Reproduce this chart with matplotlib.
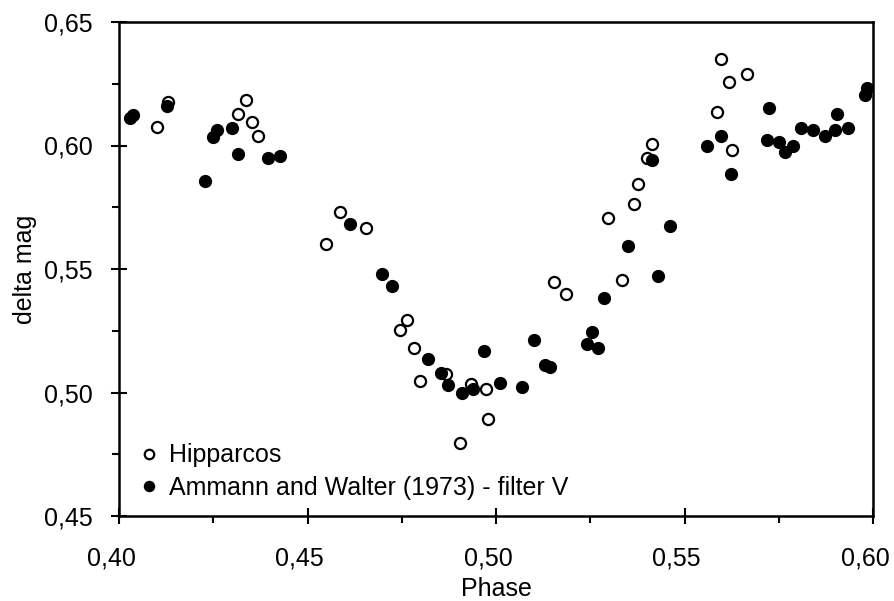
import matplotlib
matplotlib.use('Agg')
import matplotlib.pyplot as plt
import matplotlib.transforms as mtransforms
from matplotlib.ticker import MultipleLocator

plt.rcParams['font.family'] = ['Liberation Sans Narrow', 'Liberation Sans', 'DejaVu Sans']

# Hipparcos (open circles)
hip_phase = [0.4101, 0.4131, 0.4316, 0.4336, 0.4353, 0.4368, 0.4549, 0.4586, 0.4655,
             0.4745, 0.4765, 0.4782, 0.4798, 0.4867, 0.4905, 0.4935, 0.4974, 0.4978,
             0.5154, 0.5185, 0.5296, 0.5334, 0.5365, 0.5376, 0.5400, 0.5413,
             0.5585, 0.5596, 0.5617, 0.5627, 0.5665]
hip_mag = [0.6076, 0.6177, 0.6128, 0.6184, 0.6094, 0.6038, 0.5601, 0.5731, 0.5666,
           0.5253, 0.5294, 0.5180, 0.5047, 0.5075, 0.4797, 0.5034, 0.5014, 0.4894,
           0.5447, 0.5399, 0.5705, 0.5455, 0.5763, 0.5843, 0.5948, 0.6005,
           0.6136, 0.6349, 0.6256, 0.5982, 0.6291]

# Ammann and Walter (1973) - filter V (filled circles)
aw_phase = [0.4030, 0.4038, 0.4126, 0.4228, 0.4250, 0.4261, 0.4300, 0.4316, 0.4396,
            0.4427, 0.4613, 0.4697, 0.4724, 0.4819, 0.4855, 0.4872, 0.4910, 0.4940,
            0.4967, 0.5011, 0.5069, 0.5102, 0.5130, 0.5143, 0.5242, 0.5255, 0.5270,
            0.5286, 0.5349, 0.5413, 0.5429, 0.5462, 0.5559, 0.5596, 0.5623, 0.5718,
            0.5723, 0.5750, 0.5767, 0.5787, 0.5809, 0.5840, 0.5873, 0.5900, 0.5904,
            0.5935, 0.5979, 0.5983]
aw_mag = [0.6110, 0.6124, 0.6160, 0.5857, 0.6033, 0.6063, 0.6071, 0.5966, 0.5950,
          0.5957, 0.5682, 0.5479, 0.5430, 0.5136, 0.5080, 0.5031, 0.4999, 0.5015,
          0.5169, 0.5040, 0.5023, 0.5213, 0.5110, 0.5102, 0.5196, 0.5244, 0.5179,
          0.5381, 0.5592, 0.5941, 0.5470, 0.5673, 0.5997, 0.6038, 0.5883, 0.6022,
          0.6151, 0.6014, 0.5974, 0.5997, 0.6070, 0.6063, 0.6038, 0.6063, 0.6126,
          0.6070, 0.6204, 0.6232]

xticks = [0.40, 0.45, 0.50, 0.55, 0.60]
yticks = [0.45, 0.50, 0.55, 0.60, 0.65]

fig = plt.figure(figsize=(8.94, 6.01), dpi=100)
ax = fig.add_axes([119 / 894, 85 / 601, 754 / 894, 494 / 601])

ax.plot(hip_phase, hip_mag, 'o', ms=8, mfc='white', mec='black', mew=1.6,
        label='Hipparcos', clip_on=False)
ax.plot(aw_phase, aw_mag, 'o', ms=8.5, mfc='black', mec='black',
        label='Ammann and Walter (1973) - filter V', clip_on=False)

ax.set_xlim(0.40, 0.60)
ax.set_ylim(0.45, 0.65)
ax.set_xticks(xticks)
ax.set_xticklabels(['{:.2f}'.format(v).replace('.', ',') for v in xticks])
ax.set_yticks(yticks)
ax.set_yticklabels(['{:.2f}'.format(v).replace('.', ',') for v in yticks])
ax.xaxis.set_minor_locator(MultipleLocator(0.025))
ax.yaxis.set_minor_locator(MultipleLocator(0.025))
ax.tick_params(which='major', direction='inout', length=12, width=1.5,
               labelsize=18, pad=13)
ax.tick_params(which='minor', direction='out', length=5, width=1.5)
ax.tick_params(axis='x', pad=16)
for s in ax.spines.values():
    s.set_linewidth(1.8)

# x tick labels sit a little left of their ticks in the original
shift = mtransforms.ScaledTranslation(-8 / 100, 0, fig.dpi_scale_trans)
for lab in ax.get_xticklabels():
    lab.set_transform(lab.get_transform() + shift)

ax.set_xlabel('Phase', fontsize=18, labelpad=5)
ax.set_ylabel('delta mag', fontsize=18, labelpad=5)

ax.legend(loc='lower left', frameon=False, fontsize=18, handletextpad=0.35,
          handlelength=0.9, borderaxespad=0.0, labelspacing=0.35, markerscale=0.85,
          bbox_to_anchor=(0.012, 0.012))

fig.savefig('out.png', dpi=100)
